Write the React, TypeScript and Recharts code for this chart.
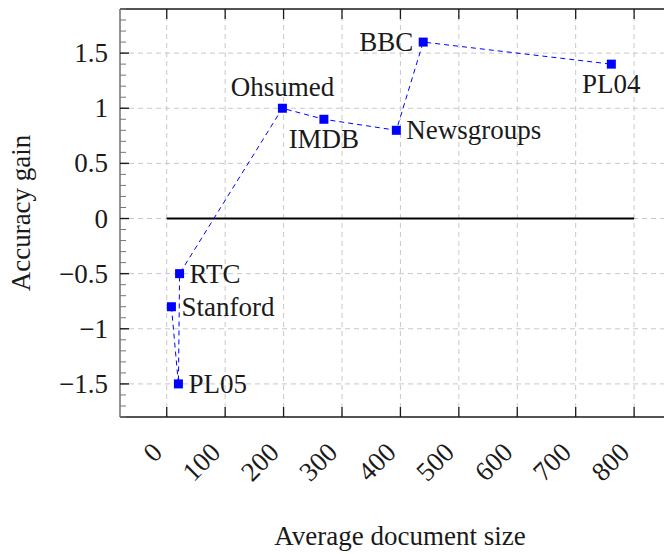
import {
  LabelList,
  Line,
  LineChart,
  ReferenceLine,
  XAxis,
  YAxis,
} from 'recharts';

// Datasets, ordered by average document size
const DATASETS = ['Stanford', 'PL05', 'RTC', 'Ohsumed', 'IMDB', 'Newsgroups', 'BBC', 'PL04'];
const DOC_SIZE = [8, 20, 22, 198, 269, 393, 439, 761];
const ACC_GAIN = [-0.8, -1.5, -0.5, 1.0, 0.9, 0.8, 1.6, 1.4];

const X_TICKS = [0, 100, 200, 300, 400, 500, 600, 700, 800];
const Y_TICKS = [-1.5, -1, -0.5, 0, 0.5, 1, 1.5];

const X_DOMAIN: [number, number] = [-80, 870];
const Y_DOMAIN: [number, number] = [-1.8, 1.9];

// minor ticks every 0.1 along the y axis
const Y_MINOR = Array.from({ length: 38 }, (_, i) => Math.round((-1.8 + i * 0.1) * 10) / 10);

const LABEL_SIDE: Record<string, 'above' | 'below' | 'left' | 'right'> = {
  Ohsumed: 'above',
  IMDB: 'below',
  PL04: 'below',
  BBC: 'left',
};

const FONT = 'Liberation Serif';
const FS = 27;
const INK = '#1a1a1a';
const BLUE = '#0000ff';
const GRID = '#c8c8c8';

const data = DATASETS.map((name, i) => ({ name, x: DOC_SIZE[i], y: ACC_GAIN[i] }));

function fmt(v: number): string {
  if (v === 0) return '0';
  return v < 0 ? '\u2212' + String(Math.abs(v)) : String(v);
}

function isMajor(v: number) {
  return Math.abs(v * 2 - Math.round(v * 2)) < 1e-6;
}

function BottomTick(props: any) {
  const { x, y, payload } = props;
  return (
    <g>
      <line x1={x} x2={x} y1={y} y2={y - 10} stroke={INK} strokeWidth={1.3} />
      <text
        transform={`translate(${x - 3},${y + 37}) rotate(-45)`}
        textAnchor="end"
        fontFamily={FONT}
        fontSize={FS}
        fill={INK}
      >
        {payload.value}
      </text>
    </g>
  );
}

function TopTick(props: any) {
  const { x, y } = props;
  return <line x1={x} x2={x} y1={y} y2={y + 10} stroke={INK} strokeWidth={1.3} />;
}

function LeftTick(props: any) {
  const { x, y, payload } = props;
  const v = payload.value as number;
  const major = isMajor(v);
  return (
    <g>
      <line
        x1={x}
        x2={x + (major ? 9 : 6)}
        y1={y}
        y2={y}
        stroke={major ? INK : '#777'}
        strokeWidth={major ? 1.4 : 1}
      />
      {major && (
        <text x={x - 12} y={y + 9} textAnchor="end" fontFamily={FONT} fontSize={FS} fill={INK}>
          {fmt(v)}
        </text>
      )}
    </g>
  );
}

function RightTick(props: any) {
  const { x, y, payload } = props;
  const major = isMajor(payload.value);
  return (
    <line x1={x} x2={x - (major ? 9 : 6)} y1={y} y2={y} stroke={major ? INK : '#777'} strokeWidth={1} />
  );
}

function SquareDot(props: any) {
  const { cx, cy, index } = props;
  return <rect key={index} x={cx - 4.5} y={cy - 4.5} width={9} height={9} fill={BLUE} />;
}

function PointLabel(props: any) {
  const { x, y, value } = props;
  const side = LABEL_SIDE[value] ?? 'right';
  let tx = x + 10;
  let ty = y + 9;
  let anchor: 'start' | 'middle' | 'end' = 'start';
  if (side === 'left') {
    tx = x - 10;
    anchor = 'end';
  } else if (side === 'above') {
    tx = x;
    ty = y - 12;
    anchor = 'middle';
  } else if (side === 'below') {
    tx = x;
    ty = y + 29;
    anchor = 'middle';
  }
  return (
    <text x={tx} y={ty} textAnchor={anchor} fontFamily={FONT} fontSize={FS} fill={INK}>
      {value}
    </text>
  );
}

function XLabel(p: any) {
  const vb = p.viewBox;
  return (
    <text x={400} y={vb.y + 128} textAnchor="middle" fontFamily={FONT} fontSize={FS} fill={INK}>
      Average document size
    </text>
  );
}

function YLabel(p: any) {
  const vb = p.viewBox;
  const cx = vb.x + 30;
  const cy = vb.y + vb.height / 2;
  return (
    <text
      transform={`translate(${cx},${cy}) rotate(-90)`}
      textAnchor="middle"
      fontFamily={FONT}
      fontSize={FS}
      fill={INK}
    >
      Accuracy gain
    </text>
  );
}

export default function App() {
  return (
    <div style={{ margin: '-8px 0 0 -8px', width: 672, height: 554, overflow: 'hidden' }}>
      <LineChart width={672} height={554} data={data} margin={{ top: 0, right: -3, bottom: 0, left: 0 }}>
        <XAxis
          xAxisId="bottom"
          type="number"
          dataKey="x"
          domain={X_DOMAIN}
          allowDataOverflow
          ticks={X_TICKS}
          interval={0}
          height={137}
          tickSize={0}
          tickMargin={0}
          tickLine={false}
          axisLine={{ stroke: INK, strokeWidth: 1.4 }}
          tick={<BottomTick />}
          label={<XLabel />}
        />
        <XAxis
          xAxisId="top"
          orientation="top"
          type="number"
          dataKey="x"
          domain={X_DOMAIN}
          allowDataOverflow
          ticks={X_TICKS}
          interval={0}
          height={9}
          tickSize={0}
          tickMargin={0}
          tickLine={false}
          axisLine={{ stroke: INK, strokeWidth: 1.4 }}
          tick={<TopTick />}
        />
        <YAxis
          yAxisId="left"
          type="number"
          domain={Y_DOMAIN}
          allowDataOverflow
          ticks={Y_MINOR}
          interval={0}
          width={120}
          tickSize={0}
          tickMargin={0}
          tickLine={false}
          axisLine={{ stroke: '#666', strokeWidth: 1.4 }}
          tick={<LeftTick />}
          label={<YLabel />}
        />
        <YAxis
          yAxisId="right"
          orientation="right"
          type="number"
          domain={Y_DOMAIN}
          allowDataOverflow
          ticks={Y_MINOR}
          interval={0}
          width={0}
          tickSize={0}
          tickMargin={0}
          tickLine={false}
          axisLine={{ stroke: INK, strokeWidth: 1.4 }}
          tick={<RightTick />}
        />

        {X_TICKS.map((t) => (
          <ReferenceLine
            key={'gx' + t}
            xAxisId="bottom"
            yAxisId="left"
            x={t}
            stroke={GRID}
            strokeDasharray="5 4"
            strokeWidth={1}
          />
        ))}
        {Y_TICKS.map((t) => (
          <ReferenceLine
            key={'gy' + t}
            xAxisId="bottom"
            yAxisId="left"
            y={t}
            stroke={GRID}
            strokeDasharray="5 4"
            strokeWidth={1}
          />
        ))}
        <ReferenceLine
          xAxisId="bottom"
          yAxisId="left"
          segment={[
            { x: 0, y: 0 },
            { x: 800, y: 0 },
          ]}
          stroke="#000"
          strokeWidth={2}
        />

        <Line
          xAxisId="bottom"
          yAxisId="left"
          type="linear"
          dataKey="y"
          stroke={BLUE}
          strokeWidth={1}
          strokeDasharray="5 4"
          dot={<SquareDot />}
          activeDot={false}
          isAnimationActive={false}
        >
          <LabelList dataKey="name" content={<PointLabel />} />
        </Line>
      </LineChart>
    </div>
  );
}
